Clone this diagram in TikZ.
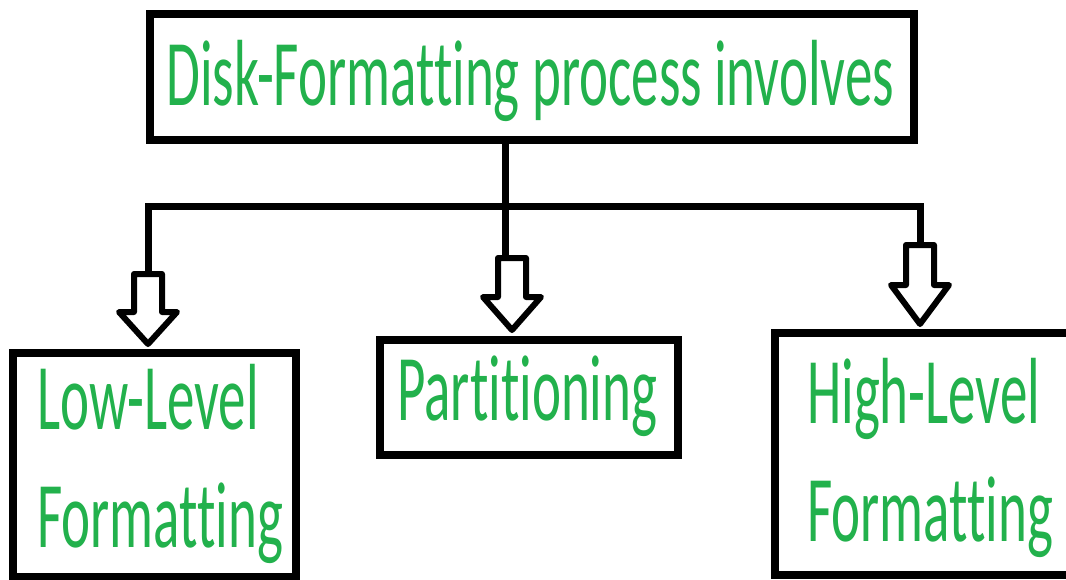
\documentclass[tikz,border=0pt]{standalone}
\usepackage{fontspec}
\setmainfont{Carlito}[FakeStretch=0.585, Ligatures=CommonOff]
\definecolor{pgreen}{HTML}{22B14C}
\newcommand\mybarrow[4]{%
  \draw[blockarrow] (#1-14,#2) -- (#1+14,#2) -- (#1+14,#3) -- (#1+29,#3) -- (#1,#4) -- (#1-29,#3) -- (#1-14,#3) -- cycle;}
\begin{document}
\begin{tikzpicture}[x=1pt,y=-1pt,
  box/.style={draw=black, line width=8pt, rectangle, inner sep=0pt, outer sep=0pt},
  lbl/.style={anchor=base west, inner sep=0pt, text=pgreen, font=\fontsize{94}{118}\selectfont, align=left},
  conn/.style={draw=black, line width=7pt},
  blockarrow/.style={draw=black, line width=6pt, line join=round, fill=white}]
\useasboundingbox (0,0) rectangle (1066,579);
\clip (0,0) rectangle (1066,579);
\fill[white] (0,0) rectangle (1066,579);
% boxes
\node[box, minimum width=764pt, minimum height=126pt] (top) at (532,77) {};
\node[box, minimum width=283pt, minimum height=224pt] (low) at (154.5,465) {};
\node[box, minimum width=298pt, minimum height=115pt] (part) at (529,397.5) {};
\node[box, minimum width=305pt, minimum height=242pt] (high) at (927.5,454) {};
% labels (base anchor = baseline of the last line)
\node[lbl] (t0) at (166,105) {Disk-Formatting process involves};
\node[lbl] (t1) at (37,547) {Low-Level\\Formatting};
\node[lbl] (t2) at (397,420) {Partitioning};
\node[lbl] (t3) at (807,541) {High-Level\\Formatting};
% connector coordinates
\coordinate (aL) at (148,274);
\coordinate (aM) at (505,258);
\coordinate (aR) at (920,245);
\coordinate (bar) at (920,206);
\draw[conn] (top.south -| aM) -- (aM);
\draw[conn] (aL) |- (bar) -- (aR);
% block arrows
\mybarrow{148}{274}{312}{344}
\mybarrow{512}{258}{297}{330}
\mybarrow{920}{245}{285}{324}
\end{tikzpicture}
\end{document}
